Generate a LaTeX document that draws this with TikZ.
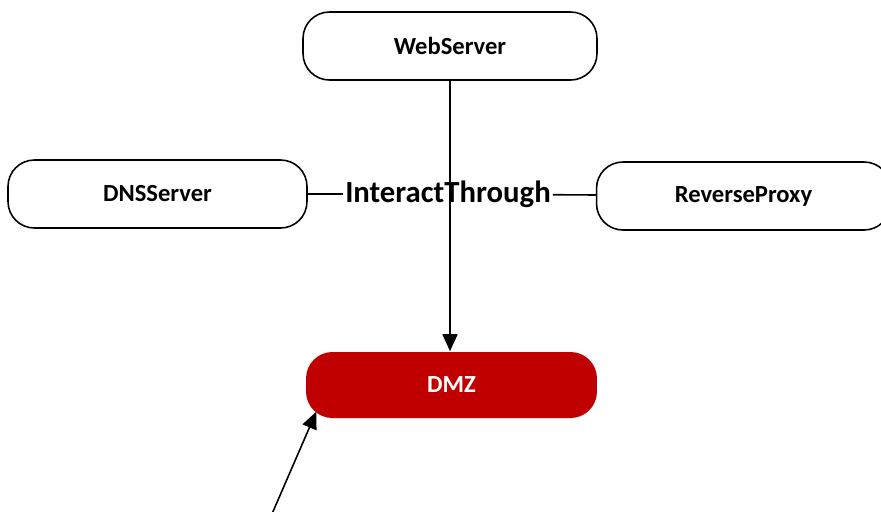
\documentclass[tikz,border=0pt]{standalone}
\usepackage{fontspec}
\setmainfont{Carlito}
\usetikzlibrary{arrows.meta, positioning}
\definecolor{dmzred}{HTML}{C00000}
\tikzset{
    box/.style={rectangle, rounded corners=15pt, draw, line width=0.9pt, fill=white, minimum width=5.88cm, minimum height=1.36cm, align=center, font=\fontsize{14}{16}\selectfont\bfseries},
    zone/.style={box, draw=none, fill=dmzred, text=white, minimum width=5.82cm, minimum height=1.32cm},
    rel/.style={font=\fontsize{17.5}{20}\selectfont\bfseries, inner sep=1pt},
    link/.style={line width=0.9pt},
    flow/.style={link, -{Triangle[length=3.4mm, width=3mm]}},
}

\begin{document}
\begin{tikzpicture}[x=0.02cm, y=-0.02cm]
\useasboundingbox (0, 0) rectangle (881, 511);

% Servers
\node[box] (web) at (450, 46) {WebServer};
\node[box, minimum width=5.98cm] (dns) at (157.5, 194) {DNSServer};
\node[box] (proxy) at (743.5, 196) {ReverseProxy};

% Zone
\node[zone] (dmz) at (451.5, 385) {DMZ};

% Relation
\node[rel] (rel) at (448, 194) {InteractThrough};
\draw[link] (dns) -- (rel);
\draw[link] (rel) -- (proxy);
\draw[flow] (web) -- (web |- dmz.north);

% Incoming from below
\coordinate (src) at (265, 530);
\draw[flow] (src) -- ([xshift=0.22cm, yshift=0.14cm]dmz.south west);

\end{tikzpicture}
\end{document}
